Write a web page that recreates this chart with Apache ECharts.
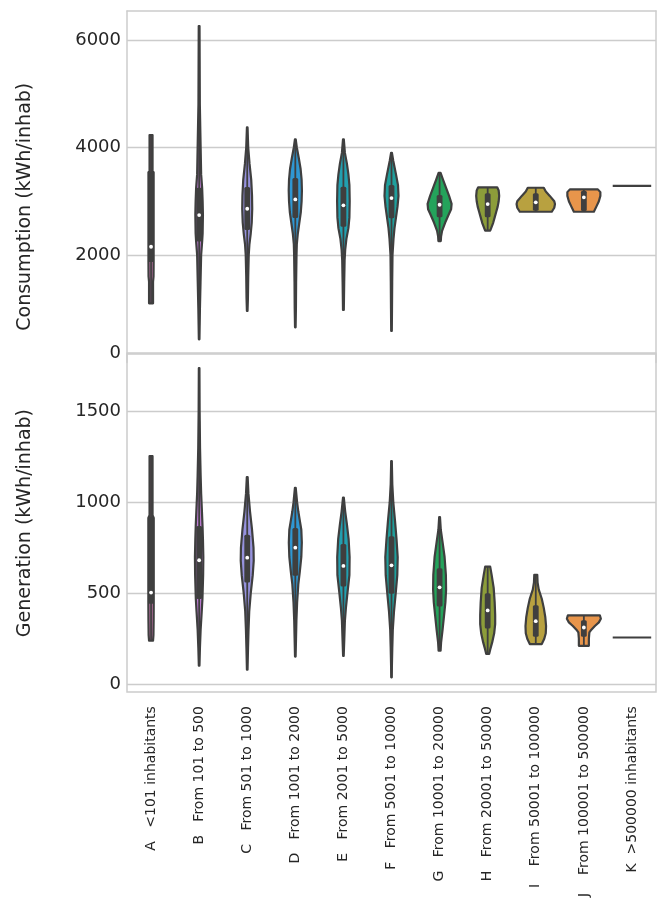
<!DOCTYPE html>
<html><head><meta charset="utf-8">
<script src="https://cdn.jsdelivr.net/npm/echarts@6/dist/echarts.min.js"></script>
<style>html,body{margin:0;padding:0;background:#fff}#c{width:661px;height:900px}</style>
</head><body><div id="c"></div><script>
const categories = [
  'A   <101 inhabitants', 'B   From 101 to 500', 'C   From 501 to 1000',
  'D   From 1001 to 2000', 'E   From 2001 to 5000', 'F   From 5001 to 10000',
  'G   From 10001 to 20000', 'H   From 20001 to 50000', 'I    From 50001 to 100000',
  'J    From 100001 to 500000', 'K  >500000 inhabitants'
];
const palette = ['#d27ab6', '#bd7bd3', '#9692dd', '#2f97d2', '#22a0b0', '#1f9f9c',
                 '#24a35b', '#8c9d3a', '#b8a140', '#e8954b', '#e4798a'];

// box statistics: [whiskerLow, q1, median, q3, whiskerHigh]
const consumptionStats = [
  [1101, 1869, 2154, 3549, 4232], [700, 2250, 2743, 3250, 4700], [1300, 2464, 2861, 3264, 4374],
  [1500, 2688, 3035, 3432, 4151], [1500, 2526, 2924, 3270, 4151], [1800, 2682, 3060, 3302, 3903],
  [2260, 2701, 2935, 3116, 3530], [2452, 2701, 2948, 3147, 3259], [2805, 2824, 2980, 3147, 3251],
  [2805, 2818, 3073, 3195, 3221], null
];
const generationStats = [
  [239, 442, 504, 923, 1255], [102, 469, 682, 870, 1450], [250, 560, 696, 823, 1140],
  [300, 597, 751, 860, 1081], [250, 537, 651, 772, 1027], [100, 497, 654, 814, 1228],
  [185, 428, 533, 638, 919], [167, 306, 406, 500, 647], [221, 261, 347, 434, 602],
  [211, 261, 312, 352, 379], null
];
// single observations
const consumptionSingle = [null, null, null, null, null, null, null, null, null, null, 3288];
const generationSingle = [null, null, null, null, null, null, null, null, null, null, 257];

// density profiles: [value, relative density]
const consumptionDensity = [
  [[1101,2.0],[1500,2.0],[1600,2.5],[1869,2.6],[2500,2.6],[3540,2.6],[3560,1.5],[4232,1.5]],
  [[431,0.3],[1000,0.8],[1500,1.4],[2000,2.0],[2250,3.0],[2400,3.5],[2750,3.8],[3000,3.5],[3250,3.0],[3500,2.0],[4000,1.5],[4800,0.7],[6259,0.4]],
  [[958,0.3],[1200,0.7],[1600,1.0],[2000,1.5],[2200,2.2],[2400,3.5],[2600,4.5],[2861,5.0],[3100,4.8],[3400,4.0],[3700,2.3],[4000,1.0],[4374,0.3]],
  [[655,0.3],[1000,0.6],[1500,0.8],[2000,1.2],[2200,1.5],[2400,2.5],[2600,4.0],[2800,5.5],[3000,6.3],[3200,6.6],[3400,6.3],[3600,5.3],[3800,3.5],[4000,1.5],[4151,0.4]],
  [[977,0.4],[1500,0.8],[1900,1.2],[2100,1.8],[2300,3.0],[2500,5.0],[2700,6.0],[3000,6.3],[3300,6.0],[3500,5.0],[3700,3.5],[3900,1.5],[4151,0.4]],
  [[586,0.3],[1000,0.5],[1500,0.7],[2000,1.0],[2300,2.0],[2500,3.0],[2700,4.5],[2900,6.0],[3100,7.0],[3300,6.5],[3500,4.5],[3750,1.8],[3903,0.4]],
  [[2260,1.2],[2350,1.5],[2450,2.5],[2600,5.5],[2750,9.0],[2850,11.5],[2950,12.0],[3100,9.5],[3250,6.5],[3400,3.5],[3530,1.0]],
  [[2452,2.5],[2500,3.5],[2600,5.5],[2700,7.0],[2800,8.5],[2900,10.0],[3000,11.0],[3100,11.5],[3200,11.0],[3259,9.5]],
  [[2805,16.0],[2880,18.5],[2950,19.2],[3000,18.5],[3100,14.0],[3180,10.0],[3251,8.0]],
  [[2805,10.0],[2900,12.5],[3000,15.0],[3100,16.5],[3170,16.5],[3221,14.0]],
  []
];
const generationDensity = [
  [[239,2.0],[270,2.4],[350,2.6],[450,2.7],[600,2.7],[915,2.7],[930,1.5],[1255,1.5]],
  [[102,0.3],[200,0.8],[300,1.5],[400,2.6],[469,3.3],[600,4.0],[700,4.2],[800,3.8],[870,3.4],[950,2.8],[1050,2.0],[1150,1.5],[1300,0.9],[1500,0.5],[1739,0.3]],
  [[80,0.3],[200,0.8],[300,1.3],[400,2.0],[500,3.5],[600,5.5],[680,6.5],[750,6.3],[850,4.8],[950,2.8],[1050,1.2],[1140,0.4]],
  [[152,0.3],[250,0.7],[350,1.1],[450,1.8],[550,3.0],[620,4.5],[700,6.0],[780,6.5],[850,6.0],[900,4.5],[950,3.0],[1000,1.8],[1081,0.4]],
  [[156,0.3],[250,0.9],[350,1.5],[420,2.5],[500,4.0],[600,6.0],[700,6.2],[800,5.2],[880,3.5],[950,1.8],[1027,0.4]],
  [[38,0.3],[100,0.4],[200,0.8],[300,1.3],[400,2.5],[500,4.2],[600,5.8],[700,6.2],[800,5.0],[900,3.5],[1000,1.8],[1100,0.8],[1228,0.3]],
  [[185,1.0],[230,1.5],[300,3.0],[380,4.5],[450,5.8],[520,6.5],[600,6.3],[700,5.0],[780,3.0],[850,1.2],[919,0.4]],
  [[167,1.5],[190,2.5],[230,4.5],[280,6.5],[330,7.5],[380,7.5],[450,7.0],[530,6.0],[600,4.0],[647,2.5]],
  [[221,6.0],[250,8.5],[280,10.0],[320,10.3],[370,9.5],[420,8.0],[470,6.0],[520,3.0],[560,1.8],[602,1.5]],
  [[211,5.0],[250,5.0],[285,5.5],[300,7.5],[320,11.0],[340,15.0],[360,17.0],[379,16.0]],
  []
];
const consumptionTicks = [0, 2000, 4000, 6000];
const generationTicks = [0, 500, 1000, 1500];

const DENSITY_MAX = 19.24;   // widest violin -> 0.4 of a category band
const EDGE = '#3f3f3f';
const GRID = '#cccccc';
const TEXT = '#262626';
const FONT = 'DejaVu Sans';

function makeRender(density, stats, single) {
  return function (params, api) {
    const i = api.value(0);
    const cx = api.coord([i, 0])[0];
    const band = api.size([1, 0])[0];
    const k = 0.4 * band / DENSITY_MAX;
    const children = [];
    if (single[i] != null) {
      const y = api.coord([i, single[i]])[1];
      children.push({type: 'line', shape: {x1: cx - 0.4 * band, y1: y, x2: cx + 0.4 * band, y2: y},
        style: {stroke: EDGE, lineWidth: 2.2}});
      return {type: 'group', children};
    }
    const prof = density[i];
    const right = prof.map(p => [cx + p[1] * k, api.coord([i, p[0]])[1]]);
    const left = prof.slice().reverse().map(p => [cx - p[1] * k, api.coord([i, p[0]])[1]]);
    children.push({type: 'polygon', shape: {points: right.concat(left)},
      style: {fill: palette[i], stroke: EDGE, lineWidth: 2.2, lineJoin: 'round'}});
    const s = stats[i];
    const yw1 = api.coord([i, s[0]])[1], yq1 = api.coord([i, s[1]])[1];
    const ym = api.coord([i, s[2]])[1], yq3 = api.coord([i, s[3]])[1], yw2 = api.coord([i, s[4]])[1];
    children.push({type: 'line', shape: {x1: cx, y1: yw1, x2: cx, y2: yw2}, style: {stroke: EDGE, lineWidth: 1.8}});
    children.push({type: 'rect', shape: {x: cx - 2.9, y: yq3, width: 5.8, height: yq1 - yq3, r: 1.5},
      style: {fill: EDGE}});
    children.push({type: 'circle', shape: {cx: cx, cy: ym, r: 1.9}, style: {fill: '#ffffff'}});
    return {type: 'group', children};
  };
}

const chart = echarts.init(document.getElementById('c'), null, {renderer: 'canvas'});
const hiddenCat = (grid, extra) => Object.assign({
  type: 'category', gridIndex: grid, data: categories, boundaryGap: true,
  axisTick: {show: false}, axisLabel: {show: false}, splitLine: {show: false},
  axisLine: {show: true, onZero: false, lineStyle: {color: GRID, width: 1.5}}
}, extra);

chart.setOption({
  backgroundColor: '#ffffff',
  animation: false,
  grid: [
    {left: 127, right: 5, top: 11, height: 351.5, show: false},
    {left: 127, right: 5, top: 354, bottom: 204, show: true, borderColor: GRID, borderWidth: 1.5}
  ],
  xAxis: [
    hiddenCat(0, {position: 'top'}),
    hiddenCat(0, {position: 'bottom', offset: -10}),
    {
      type: 'category', gridIndex: 1, data: categories, position: 'bottom', boundaryGap: true,
      axisLine: {show: false, onZero: false}, axisTick: {show: false}, splitLine: {show: false},
      axisLabel: {rotate: 90, interval: 0, margin: 14, fontSize: 14, fontFamily: FONT, color: TEXT}
    }
  ],
  yAxis: [
    {
      type: 'value', gridIndex: 0, min: 0, max: 6540, position: 'left',
      name: 'Consumption (kWh/inhab)', nameLocation: 'middle', nameGap: 92,
      nameTextStyle: {fontSize: 19, fontFamily: FONT, color: TEXT, padding: [0, 40, 0, 0]},
      axisLine: {show: true, onZero: false, lineStyle: {color: GRID, width: 1.5}},
      axisTick: {show: false, customValues: consumptionTicks.slice(1)},
      splitLine: {show: true, lineStyle: {color: GRID, width: 1.3}},
      axisLabel: {
        customValues: consumptionTicks, margin: 6, fontSize: 18, fontFamily: FONT, color: TEXT,
        formatter: v => v === 0 ? '{z|0}' : String(v),
        rich: {z: {fontSize: 18, fontFamily: FONT, color: TEXT, padding: [0, 0, 19, 0]}}
      }
    },
    {
      type: 'value', gridIndex: 0, min: 0, max: 6540, position: 'right',
      axisLine: {show: true, onZero: false, lineStyle: {color: GRID, width: 1.5}},
      axisTick: {show: false}, axisLabel: {show: false}, splitLine: {show: false}
    },
    {
      type: 'value', gridIndex: 1, min: -43.5, max: 1817, position: 'left',
      name: 'Generation (kWh/inhab)', nameLocation: 'middle', nameGap: 92,
      nameTextStyle: {fontSize: 19, fontFamily: FONT, color: TEXT},
      axisLine: {show: false}, axisTick: {show: false, customValues: generationTicks},
      splitLine: {show: true, lineStyle: {color: GRID, width: 1.3}},
      axisLabel: {customValues: generationTicks, margin: 6, fontSize: 18, fontFamily: FONT, color: TEXT,
        formatter: v => String(v)}
    }
  ],
  series: [
    {
      type: 'custom', xAxisIndex: 0, yAxisIndex: 0, clip: false,
      renderItem: makeRender(consumptionDensity, consumptionStats, consumptionSingle),
      data: categories.map((c, i) => [i, consumptionStats[i] ? consumptionStats[i][2] : consumptionSingle[i]]),
      encode: {x: 0, y: 1}
    },
    {
      type: 'custom', xAxisIndex: 2, yAxisIndex: 2, clip: false,
      renderItem: makeRender(generationDensity, generationStats, generationSingle),
      data: categories.map((c, i) => [i, generationStats[i] ? generationStats[i][2] : generationSingle[i]]),
      encode: {x: 0, y: 1}
    }
  ]
});
</script></body></html>
